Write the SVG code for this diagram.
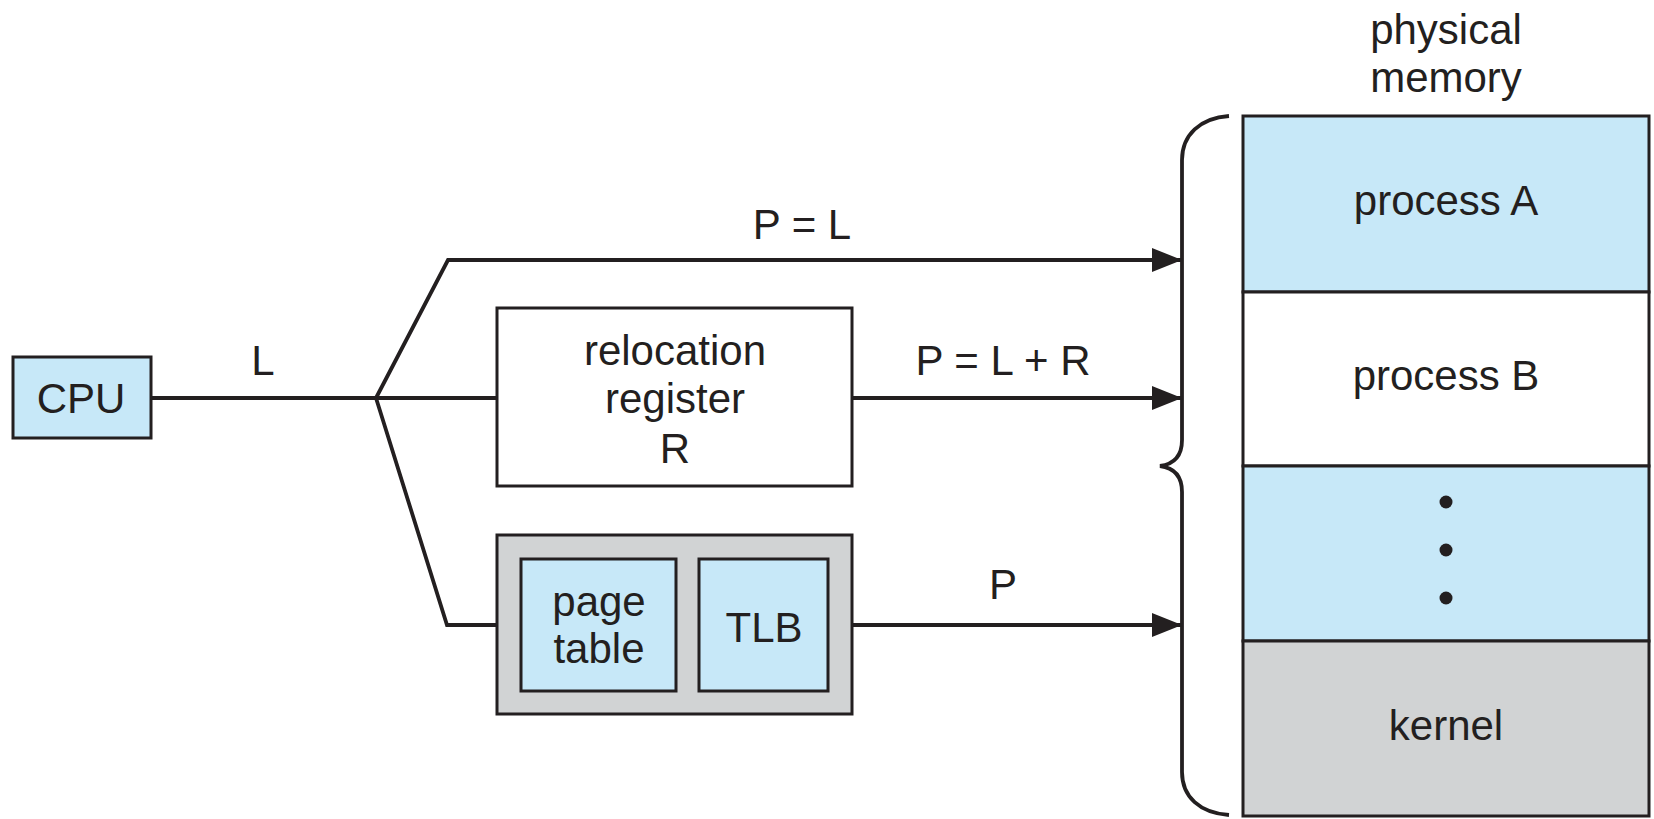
<svg xmlns="http://www.w3.org/2000/svg" width="1654" height="819" viewBox="0 0 1654 819">
<style>
text{font-family:"Liberation Sans",Arial,sans-serif;font-size:42px;fill:#231f20;text-anchor:middle}
.box{stroke:#231f20;stroke-width:3}
.blue{fill:#c7e8f8}
.gray{fill:#d1d3d4}
.white{fill:#ffffff}
.conn{fill:none;stroke:#231f20;stroke-width:3.8;stroke-linejoin:miter}
</style>
<defs>
<marker id="arr" markerUnits="userSpaceOnUse" markerWidth="30" markerHeight="24" refX="30" refY="12" orient="auto">
<path d="M0,0 L30,12 L0,24 z" fill="#231f20"/>
</marker>
</defs>
<rect width="1654" height="819" fill="#ffffff"/>
<g id="connectors">
<path class="conn" d="M151,398 H376"/>
<path class="conn" d="M376,398 L448,260 H1182" marker-end="url(#arr)"/>
<path class="conn" d="M376,398 H497"/>
<path class="conn" d="M852,398 H1182" marker-end="url(#arr)"/>
<path class="conn" d="M376,398 L447,625 H497"/>
<path class="conn" d="M852,625 H1182" marker-end="url(#arr)"/>
<text x="263" y="375">L</text>
<text x="802" y="239">P = L</text>
<text x="1003" y="375">P = L + R</text>
<text x="1003" y="599">P</text>
</g>
<g id="cpu">
<rect class="box blue" x="13" y="357" width="138" height="81"/>
<text x="81" y="413">CPU</text>
</g>
<g id="relocation">
<rect class="box white" x="497" y="308" width="355" height="178"/>
<text x="675" y="365">relocation</text>
<text x="675" y="413">register</text>
<text x="675" y="463">R</text>
</g>
<g id="paging">
<rect class="box gray" x="497" y="535" width="355" height="179"/>
<rect class="box blue" x="521" y="559" width="155" height="132"/>
<text x="599" y="616">page</text>
<text x="599" y="663">table</text>
<rect class="box blue" x="699" y="559" width="129" height="132"/>
<text x="764" y="642">TLB</text>
</g>
<g id="brace">
<path class="conn" d="M1229,116 C1200,118 1182,135 1182,160 L1182,440 C1182,455 1175,464 1160,466 C1175,468 1182,477 1182,492 L1182,772 C1182,797 1200,813 1229,815"/>
</g>
<g id="memory">
<text x="1446" y="44">physical</text>
<text x="1446" y="92">memory</text>
<rect class="box blue" x="1243" y="116" width="406" height="176"/>
<text x="1446" y="215">process A</text>
<rect class="box white" x="1243" y="292" width="406" height="174"/>
<text x="1446" y="390">process B</text>
<rect class="box blue" x="1243" y="466" width="406" height="175"/>
<circle cx="1446" cy="502" r="6.5" fill="#231f20"/>
<circle cx="1446" cy="550" r="6.5" fill="#231f20"/>
<circle cx="1446" cy="598" r="6.5" fill="#231f20"/>
<rect class="box gray" x="1243" y="641" width="406" height="175"/>
<text x="1446" y="740">kernel</text>
</g>
</svg>
